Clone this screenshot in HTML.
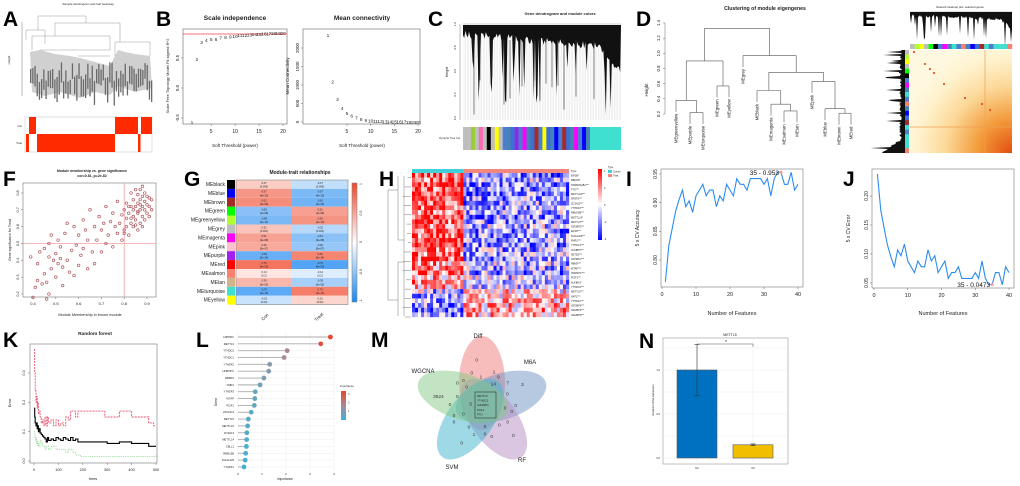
<!DOCTYPE html>
<html><head><meta charset="utf-8">
<style>
html,body{margin:0;padding:0;background:#fff;}
svg{display:block;font-family:"Liberation Sans",Arial,sans-serif;}
.L{font-weight:bold;font-size:21px;fill:#000;}
</style></head>
<body>
<svg id="fig" width="1020" height="486" viewBox="0 0 1020 486" xmlns="http://www.w3.org/2000/svg">
<defs>
<linearGradient id="gLeg" x1="0" y1="0" x2="0" y2="1"><stop offset="0" stop-color="#f0472a"/><stop offset="0.5" stop-color="#ffffff"/><stop offset="1" stop-color="#1a86f0"/></linearGradient>
<linearGradient id="hLeg" x1="0" y1="0" x2="0" y2="1"><stop offset="0" stop-color="#ff0000"/><stop offset="0.5" stop-color="#ffffff"/><stop offset="1" stop-color="#0000ff"/></linearGradient>
<linearGradient id="lLeg" x1="0" y1="0" x2="0" y2="1"><stop offset="0" stop-color="#e8452c"/><stop offset="0.5" stop-color="#a98a92"/><stop offset="1" stop-color="#3cb4d8"/></linearGradient>
<radialGradient id="eGrad" cx="1" cy="1" r="1.1"><stop offset="0" stop-color="#e24d10"/><stop offset="0.3" stop-color="#f39a3a"/><stop offset="0.6" stop-color="#fcd99a"/><stop offset="0.85" stop-color="#fff3cf"/><stop offset="1" stop-color="#fff8e0"/></radialGradient>
</defs>
<g>
<text class="L" x="3" y="26">A</text>
<text class="L" x="156" y="26">B</text>
<text class="L" x="428" y="26">C</text>
<text class="L" x="636" y="26">D</text>
<text class="L" x="862" y="26">E</text>
<text class="L" x="3" y="186">F</text>
<text class="L" x="184" y="186">G</text>
<text class="L" x="379" y="186">H</text>
<text class="L" x="626" y="186">I</text>
<text class="L" x="843" y="186">J</text>
<text class="L" x="3" y="347">K</text>
<text class="L" x="196" y="347">L</text>
<text class="L" x="371" y="347">M</text>
<text class="L" x="639" y="348">N</text>
</g>
</svg>
<script>
// ---------- DATA ----------
const bPowers=[1,2,3,4,5,6,7,8,9,10,11,12,13,14,15,16,17,18,19,20];
const bR2=[-0.57,0.48,0.77,0.80,0.82,0.82,0.84,0.85,0.86,0.87,0.88,0.88,0.89,0.90,0.90,0.91,0.91,0.92,0.92,0.92];
const bConn=[2350,1100,620,380,250,170,120,80,60,40,30,25,20,15,12,10,8,6,5,4];
const dLeaves=["MEgreenyellow","MEpurple","MEturquoise","MEgreen","MEyellow","MEgrey","MEblack","MEmagenta","MEsalmon","MEtan","MEpink","MEblue","MEbrown","MEred"];
const dMergeA=[1,0,3,8,7,6,12,11,10,"n1","n6","n9","n2","n12"];
const dMergeB=[2,"n0",4,9,"n3","n4",13,"n6b",  "n7", "n5","n8","n10","n11","n11b"];
const fMM=[0.39,0.40,0.41,0.42,0.42,0.43,0.44,0.45,0.45,0.46,0.46,0.47,0.47,0.47,0.48,0.48,0.49,0.50,0.50,0.51,0.51,0.52,0.52,0.53,0.53,0.54,0.55,0.55,0.56,0.57,0.58,0.58,0.59,0.60,0.60,0.61,0.62,0.62,0.63,0.64,0.64,0.65,0.66,0.67,0.67,0.68,0.69,0.70,0.70,0.71,0.72,0.72,0.73,0.74,0.75,0.75,0.76,0.77,0.77,0.78,0.79,0.79,0.80,0.80,0.81,0.81,0.82,0.82,0.83,0.83,0.83,0.84,0.84,0.84,0.85,0.85,0.85,0.86,0.86,0.86,0.86,0.87,0.87,0.87,0.87,0.88,0.88,0.88,0.88,0.89,0.89,0.89,0.89,0.90,0.90,0.90,0.91,0.91,0.91,0.92,0.92,0.84,0.85,0.86,0.87,0.88,0.82,0.83,0.80,0.81];
const fGS=[0.42,0.18,0.24,0.28,0.38,0.45,0.26,0.47,0.32,0.17,0.27,0.20,0.42,0.50,0.35,0.55,0.40,0.44,0.30,0.52,0.38,0.48,0.41,0.25,0.36,0.56,0.40,0.62,0.33,0.46,0.31,0.60,0.49,0.37,0.55,0.43,0.64,0.47,0.58,0.35,0.52,0.70,0.45,0.60,0.38,0.52,0.66,0.45,0.58,0.62,0.50,0.72,0.55,0.63,0.48,0.68,0.60,0.56,0.75,0.62,0.52,0.67,0.58,0.70,0.65,0.74,0.55,0.68,0.62,0.72,0.80,0.60,0.70,0.76,0.64,0.72,0.82,0.58,0.68,0.74,0.79,0.62,0.70,0.76,0.82,0.66,0.72,0.78,0.84,0.64,0.70,0.75,0.80,0.68,0.73,0.78,0.66,0.72,0.77,0.70,0.76,0.66,0.61,0.69,0.73,0.60,0.72,0.65,0.56,0.60];
const gModules=["MEblack","MEblue","MEbrown","MEgreen","MEgreenyellow","MEgrey","MEmagenta","MEpink","MEpurple","MEred","MEsalmon","MEtan","MEturquoise","MEyellow"];
const gSwatch=["#000000","#0000ff","#a52a2a","#00ff00","#adff2f","#bebebe","#ff00ff","#ffc0cb","#a020f0","#ff0000","#fa8072","#d2b48c","#40e0d0","#ffff00"];
const gCorCon=[0.27,0.57,0.62,-0.52,-0.58,0.32,0.51,0.46,-0.66,0.75,0.14,0.39,-0.7,-0.23];
const gPval=["(0.006)","(4e-10)","(3e-26)","(1e-08)","(2e-10)","(0.001)","(3e-08)","(5e-07)","(5e-14)","(6e-20)","(0.2)","(5e-05)","(3e-16)","(0.02)"];
const hGenes=["EIF3B*","RBM15*","HNRNPA2B1***","FTO***","METTL16***","SRSF3***","ZC3H13***","YTHDF3***","RBM15B***","METTL14*","METTL3***","IGF2BP2***","EIF3H***","KIAA1429***","FMR1***","YTHDC1***","ALKBH5***","SETD2***","LRPPRC***","RBMX***","WTAP***","HNRNPC***","PCIF1***","ALKBH3*","YTHDC2***","METTL5***","NXF1***","YTHDF2***","IGF2BP3***","IGF2BP1***","IGF2BP3***"];
const hFC=[1.2,0.9,1.4,1.1,1.3,1.0,1.2,1.1,0.9,1.3,1.0,0.8,1.2,1.0,1.1,1.3,0.9,1.0,1.2,0.7,0.8,1.1,0.6,0.8,0.5,-0.4,-0.6,-0.7,-0.8,-0.9,-0.7];
const iAcc=[0.762,0.825,0.855,0.885,0.905,0.922,0.893,0.903,0.883,0.912,0.922,0.932,0.912,0.922,0.922,0.893,0.912,0.903,0.932,0.922,0.912,0.942,0.932,0.932,0.922,0.942,0.942,0.942,0.942,0.932,0.942,0.912,0.942,0.953,0.953,0.932,0.932,0.953,0.922,0.932];
const jErr=[0.238,0.175,0.145,0.115,0.095,0.078,0.107,0.097,0.117,0.088,0.078,0.068,0.088,0.078,0.078,0.107,0.088,0.097,0.068,0.078,0.088,0.058,0.068,0.068,0.078,0.058,0.058,0.058,0.058,0.068,0.058,0.088,0.058,0.047,0.0473,0.068,0.068,0.047,0.078,0.068];
const kTrees=[1,3,5,8,10,13,15,18,20,25,30,35,40,45,50,55,60,70,80,90,100,110,120,130,140,150,160,170,180,190,200,250,290,300,340,350,390,400,460,470,490,500];
const kOOB=[0.18,0.15,0.13,0.12,0.13,0.11,0.12,0.10,0.11,0.095,0.09,0.085,0.08,0.075,0.065,0.08,0.07,0.075,0.07,0.08,0.075,0.07,0.08,0.075,0.07,0.08,0.07,0.075,0.065,0.065,0.065,0.065,0.065,0.06,0.06,0.065,0.065,0.06,0.06,0.05,0.05,0.05];
const kErrRed=[0.38,0.30,0.24,0.20,0.22,0.18,0.20,0.16,0.17,0.15,0.13,0.14,0.12,0.15,0.12,0.15,0.13,0.14,0.12,0.14,0.12,0.13,0.12,0.15,0.14,0.17,0.17,0.15,0.17,0.17,0.17,0.17,0.15,0.15,0.15,0.17,0.17,0.15,0.15,0.13,0.12,0.12];
const kErrGreen=[0.10,0.09,0.07,0.08,0.06,0.07,0.05,0.06,0.05,0.07,0.06,0.05,0.05,0.04,0.05,0.05,0.04,0.05,0.05,0.04,0.04,0.04,0.04,0.03,0.04,0.04,0.03,0.02,0.02,0.015,0.015,0.015,0.015,0.015,0.015,0.015,0.015,0.015,0.015,0.015,0.015,0.02];
const lGenes=["LRPPRC","METTL3","YTHDC2","YTHDC1","YTHDF2","HNRNPC","RBM15","FMR1","YTHDF3","WTAP","PCIF1","ZCCHC4","METTL5","METTL16","ZC3H13","METTL14","CBLL1","RBM15B","KIAA1429","YTHDF1"];
const lImp=[3.85,3.45,2.05,1.92,1.32,1.28,1.08,0.92,0.72,0.70,0.68,0.55,0.43,0.40,0.37,0.36,0.35,0.32,0.30,0.25];
const nGroups=["NC","AS"];
const nVals=[1.0,0.15];
const nErr=[0.29,0.01];
const mSets=["Diff","M6A","RF","SVM","WGCNA"];

// ---------- HELPERS ----------
const NS="http://www.w3.org/2000/svg";
const svg=document.getElementById('fig');
function mk(parent,tag,attrs,name){
  const el=document.createElementNS(NS,tag);
  for(const k in attrs) el.setAttribute(k,attrs[k]);
  
  
  parent.appendChild(el);return el;
}
function tx(parent,x,y,s,size,name,opt){
  opt=opt||{};
  const a={x:x,y:y,'font-size':size,fill:opt.fill||'#222'};
  if(opt.anchor)a['text-anchor']=opt.anchor;
  if(opt.rot!==undefined)a.transform='rotate('+opt.rot+' '+x+' '+y+')';
  if(opt.bold)a['font-weight']='bold';
  const t=mk(parent,'text',a,name);t.textContent=s;return t;
}
function lin(d0,d1,r0,r1){return v=>r0+(v-d0)*(r1-r0)/(d1-d0);}
function grp(name){return mk(svg,'g',{},name);}
function line(p,x1,y1,x2,y2,st,w,name,dash){const a={x1:x1,y1:y1,x2:x2,y2:y2,stroke:st,'stroke-width':w};if(dash)a['stroke-dasharray']=dash;return mk(p,'line',a,name);}
function rect(p,x,y,w,h,fill,name,st){const a={x:x,y:y,width:w,height:h,fill:fill};if(st){a.stroke=st;a['stroke-width']=0.6;}return mk(p,'rect',a,name);}
function poly(p,pts,st,w,name,dash){const a={points:pts.map(q=>q[0].toFixed(1)+','+q[1].toFixed(1)).join(' '),fill:'none',stroke:st,'stroke-width':w};if(dash)a['stroke-dasharray']=dash;return mk(p,'polyline',a,name);}
function h01(i,j){const s=Math.sin(i*12.9898+j*78.233)*43758.5453;return s-Math.floor(s);}

// ---------- A ----------
(function(){
 const g=grp('panel-a-sample-dendrogram');
 tx(g,88,5,'Sample dendrogram and trait heatmap',3,'a-title',{anchor:'middle'});
 line(g,22,22,22,96,'#555',0.4,'a-y-axis');
 tx(g,10,60,'Height',3,'a-y-title',{rot:-90,anchor:'middle'});
 const segs=[[38,16,86,16],[38,16,38,30],[86,16,86,23],[55,23,120,23],[55,23,55,36],[120,23,120,42],[32,36,110,36],[32,36,32,50],[110,36,110,50],[26,30,45,30],[26,30,26,40],[45,30,45,44],[115,42,150,42],[115,42,115,56],[150,42,150,56],[70,50,110,50],[40,50,70,50],[78,56,110,56]];
 segs.forEach((s,i)=>line(g,s[0],s[1],s[2],s[3],'#999',0.5,'a-branch'));
 mk(g,'polygon',{points:'30,52 40,50 55,54 70,56 80,58 95,62 110,66 118,50 125,52 135,54 150,56 152,88 135,92 118,86 110,95 95,92 80,98 60,92 45,96 32,92',fill:'#d0d0d0'},'a-leaf-mass');
 for(let x=30;x<152;x+=2.2){const y0=62+20*h01(x,1);mk(g,'rect',{x:x,y:y0,width:1.3,height:14+12*h01(x,2),fill:'#6a6a6a'},'a-leaf-label');}
 rect(g,25,117,127,35,'#fff','a-heatmap-bg','#ccc');
 tx(g,22,127,'Con',2.5,'a-row-con',{anchor:'end'});
 tx(g,22,144,'Treat',2.5,'a-row-treat',{anchor:'end'});
 [[29,117,7,17],[115,117,23,17],[141,117,11,17],[26,134,3,18],[37,134,78,18],[138,134,2.5,18]].forEach(r=>rect(g,r[0],r[1],r[2],r[3],'#ff2a00','a-trait-cell'));
})();

// ---------- B ----------
(function(){
 const g=grp('panel-b-soft-threshold');
 const x1=lin(1,20,192,283), y1=lin(0,0.5,88,58);
 rect(g,183,29,104,95,'none','b1-frame','#666');
 tx(g,235,20,'Scale independence',6.5,'b1-title',{anchor:'middle',bold:true});
 line(g,183,y1(0.9),287,y1(0.9),'#f04040',0.8,'b1-cutoff-line');
 [5,10,15,20].forEach(v=>{line(g,x1(v),124,x1(v),126,'#444',0.4,'b1-x-tick');tx(g,x1(v),133,String(v),5,'b1-x-tick-label',{anchor:'middle'});});
 [-0.5,0,0.5].forEach(v=>{line(g,181,y1(v),183,y1(v),'#444',0.4,'b1-y-tick');tx(g,179,y1(v),v.toFixed(1),4.5,'b1-y-tick-label',{anchor:'middle',rot:-90});});
 tx(g,235,147,'Soft Threshold (power)',4.5,'b1-x-title',{anchor:'middle'});
 tx(g,169,76,'Scale Free Topology Model Fit,signed R^2',4,'b1-y-title',{anchor:'middle',rot:-90});
 bPowers.forEach((p,i)=>tx(g,x1(p),y1(bR2[i])+2,String(p),4.8,'b1-point-label',{anchor:'middle'}));
 const x2=lin(1,20,328,418), y2=lin(0,2000,122,48);
 rect(g,303,29,117,95,'none','b2-frame','#666');
 tx(g,362,20,'Mean connectivity',6.5,'b2-title',{anchor:'middle',bold:true});
 [5,10,15,20].forEach(v=>{line(g,x2(v),124,x2(v),126,'#444',0.4,'b2-x-tick');tx(g,x2(v),133,String(v),5,'b2-x-tick-label',{anchor:'middle'});});
 [0,500,1000,1500,2000].forEach(v=>{line(g,301,y2(v),303,y2(v),'#444',0.4,'b2-y-tick');tx(g,299,y2(v),String(v),4.5,'b2-y-tick-label',{anchor:'middle',rot:-90});});
 tx(g,362,147,'Soft Threshold (power)',4.5,'b2-x-title',{anchor:'middle'});
 tx(g,289,76,'Mean Connectivity',4.5,'b2-y-title',{anchor:'middle',rot:-90});
 bPowers.forEach((p,i)=>tx(g,x2(p),y2(bConn[i])+2,String(p),4.8,'b2-point-label',{anchor:'middle'}));
})();

// ---------- C ----------
(function(){
 const g=grp('panel-c-gene-dendrogram');
 tx(g,560,15,'Gene dendrogram and module colors',4,'c-title',{anchor:'middle',bold:true});
 line(g,460,24,460,120,'#555',0.4,'c-y-axis');
 [1.0,0.8,0.6,0.4,0.2].forEach((v,i)=>tx(g,456,24+i*23.5,v.toFixed(1),3,'c-y-tick-label',{anchor:'middle',rot:-90}));
 tx(g,448,72,'Height',3.5,'c-y-title',{anchor:'middle',rot:-90});
 line(g,463,24,621,24,'#888',0.4,'c-top-line');
 for(let x=464;x<621;x+=1.6){line(g,x,26,x,120,'#e2e2e2',0.5,'c-leaf');}
 const pts=[[463,25]];
 for(let x=463;x<=621;x+=1.2){const base=30+((x-463)/158)*14+(x>600?(x-600)*1.2:0);const sp=h01(x,3)>0.8?25+45*h01(x,4):8*h01(x,5);pts.push([x,base+sp]);}
 pts.push([621,25]);
 mk(g,'polygon',{points:pts.map(p=>p[0].toFixed(1)+','+p[1].toFixed(1)).join(' '),fill:'#111'},'c-dendrogram-mass');
 for(let x=468;x<600;x+=6){if(h01(x,7)>0.55)line(g,x,40,x,70+45*h01(x,8),'#333',0.6,'c-branch');}
 const cols=["#bebebe","#bebebe","#9acd32","#bebebe","#ff69b4","#bebebe","#000","#bebebe","#ffff00","#bebebe","#4a7fd0","#4682b4","#3a6fd8","#8a2be2","#4a7fd0","#ff00ff","#4682b4","#3a6fd8","#a52a2a","#4a7fd0","#ffff00","#3a6fd8","#4682b4","#0000ff","#4a7fd0","#a52a2a","#3a6fd8","#4682b4","#ff00ff","#4a7fd0","#0000ff","#4682b4"];
 const w=127/cols.length;
 cols.forEach((c,i)=>rect(g,463+i*w,127,w+0.3,23,c,'c-module-stripe'));
 rect(g,590,127,31,23,'#40e0d0','c-module-turquoise');
 tx(g,460,139,'Dynamic Tree Cut',2.6,'c-colorbar-label',{anchor:'end'});
})();

// ---------- D ----------
(function(){
 const g=grp('panel-d-eigengene-clustering');
 tx(g,765,10,'Clustering of module eigengenes',5.2,'d-title',{anchor:'middle',bold:true});
 const y=lin(0.2,1.4,114,23);
 line(g,665,y(0.2),665,y(1.4),'#444',0.4,'d-y-axis');
 [0.2,0.4,0.6,0.8,1.0,1.2,1.4].forEach(v=>{line(g,663,y(v),665,y(v),'#444',0.4,'d-y-tick');tx(g,660,y(v),v.toFixed(1),4.3,'d-y-tick-label',{anchor:'middle',rot:-90});});
 tx(g,648,90,'Height',4.5,'d-y-title',{anchor:'middle',rot:-90});
 const lx=[676,690,703,717,729,743,757,771,784,797,812,825,839,851];
 const merges=[[1,2,0.22],[0,'m0',0.38],[3,4,0.57],['m1','m2',0.90],[8,9,0.24],[7,'m4',0.33],[6,'m5',0.51],[12,13,0.21],[11,'m7',0.27],[10,'m8',0.63],['m6','m9',0.75],[5,'m10',0.97],['m3','m11',1.33]];
 const nodes={};
 const hang=0.15;
 function pos(k){return typeof k==='number'?{x:lx[k],h:null,leaf:k}:nodes[k];}
 merges.forEach((m,i)=>{
  const a=pos(m[0]),b=pos(m[1]),h=m[2];
  [a,b].forEach(n=>{const bot=n.leaf!==undefined&&n.h===null?h-hang:n.h;line(g,n.x,y(h),n.x,y(bot),'#555',0.6,'d-branch');
   if(n.leaf!==undefined&&n.h===null){tx(g,n.x+1.5,y(bot)+2,dLeaves[n.leaf],4.3,'d-leaf-label',{anchor:'end',rot:-90});}});
  line(g,a.x,y(h),b.x,y(h),'#555',0.6,'d-merge');
  nodes['m'+i]={x:(a.x+b.x)/2,h:h};
 });
})();

// ---------- E ----------
(function(){
 const g=grp('panel-e-network-heatmap');
 tx(g,960,8,'Network heatmap plot, selected genes',2.8,'e-title',{anchor:'middle'});
 line(g,910,12,1012,12,'#666',0.4,'e-top-line');
 const pts=[[910,12]];
 for(let x=910;x<=1012;x+=1){const sp=h01(x,11)>0.85?8+20*h01(x,12):3*h01(x,13);pts.push([x,14+sp+((x-910)/102)*4+(x>1000?(x-1000)*0.8:0)]);}
 pts.push([1012,12]);
 mk(g,'polygon',{points:pts.map(p=>p[0]+','+p[1].toFixed(1)).join(' '),fill:'#111'},'e-top-dendrogram');
 const lp=[[905,50]];
 for(let y=50;y<=153;y+=1){const sp=h01(y,21)>0.85?8+15*h01(y,22):3*h01(y,23);lp.push([905-(3+sp+(y>140?(y-140)*1.5:0)),y]);}
 lp.push([905,153]);
 mk(g,'polygon',{points:lp.map(p=>p[0].toFixed(1)+','+p[1]).join(' '),fill:'#111'},'e-left-dendrogram');
 const cc=["#bebebe","#adff2f","#ffff00","#bebebe","#00ff00","#000","#4a7fd0","#ff00ff","#4682b4","#40e0d0","#4a7fd0","#fa8072","#4682b4","#0000ff","#3a6fd8","#a52a2a","#40e0d0","#4a7fd0","#40e0d0","#40e0d0","#40e0d0","#fa8072"];
 const cw=102/cc.length,ch=103/cc.length;
 cc.forEach((c,i)=>{rect(g,910+i*cw,44,cw+0.2,5,c,'e-top-colorbar');rect(g,905,50+i*ch,4,ch+0.2,c,'e-left-colorbar');});
 rect(g,910,50,102,103,'url(#eGrad)','e-heatmap');
 line(g,910,127,1012,127,'#f2a050',0.7,'e-heatmap-band');
 line(g,985,50,985,153,'#f2a050',0.7,'e-heatmap-band');
 [[914,52],[925,64],[930,69],[934,73],[944,84],[965,98],[982,104],[990,110]].forEach(p=>mk(g,'circle',{cx:p[0],cy:p[1],r:1.1,fill:'#e8502a'},'e-diagonal-dot'));
})();

// ---------- F ----------
(function(){
 const g=grp('panel-f-scatter');
 tx(g,92,172,'Module membership vs. gene significance',3.5,'f-title',{anchor:'middle',bold:true});
 tx(g,92,177,'cor=0.81, p=2e-82',3.5,'f-subtitle',{anchor:'middle',bold:true});
 const x=lin(0.4,0.9,33,147), y=lin(0.2,0.8,294,193);
 rect(g,23,183,133,114,'none','f-frame','#777');
 line(g,x(0.8),183,x(0.8),297,'#f4a0a0',0.8,'f-threshold-x');
 line(g,23,y(0.5),156,y(0.5),'#f4a0a0',0.8,'f-threshold-y');
 [0.4,0.5,0.6,0.7,0.8,0.9].forEach(v=>{line(g,x(v),297,x(v),299,'#444',0.4,'f-x-tick');tx(g,x(v),305,v.toFixed(1),4,'f-x-tick-label',{anchor:'middle'});});
 [0.2,0.3,0.4,0.5,0.6,0.7,0.8].forEach(v=>{line(g,21,y(v),23,y(v),'#444',0.4,'f-y-tick');tx(g,19,y(v),v.toFixed(1),3.8,'f-y-tick-label',{anchor:'middle',rot:-90});});
 tx(g,90,316,'Module Membership in brown module',3.8,'f-x-title',{anchor:'middle'});
 tx(g,11,240,'Gene significance for Treat',3.5,'f-y-title',{anchor:'middle',rot:-90});
 const n=Math.min(fMM.length,fGS.length);
 for(let i=0;i<n;i++){mk(g,'circle',{cx:x(fMM[i]),cy:y(fGS[i]),r:1.3,fill:'none',stroke:'#b05a60','stroke-width':0.7},'f-point');}
})();

// ---------- G ----------
(function(){
 const g=grp('panel-g-module-trait');
 tx(g,300,174,'Module-trait relationships',5,'g-title',{anchor:'middle',bold:true});
 const top=180,rh=8.9;
 function col(v){const a=Math.min(1,Math.abs(v));const c=v>0?[240,71,42]:[26,134,240];return 'rgb('+c.map(k=>Math.round(255+(k-255)*a)).join(',')+')';}
 gModules.forEach((m,i)=>{
  const yy=top+i*rh;
  rect(g,227,yy,8,rh,gSwatch[i],'g-module-swatch');
  tx(g,225,yy+6,m,5,'g-module-label',{anchor:'end'});
  [gCorCon[i],-gCorCon[i]].forEach((v,j)=>{
   const xx=236+j*56;
   rect(g,xx,yy,56,rh,col(v),'g-cell');
   tx(g,xx+28,yy+3.8,v.toFixed(2),2.6,'g-cell-corr',{anchor:'middle'});
   tx(g,xx+28,yy+7.4,gPval[i],2.6,'g-cell-pval',{anchor:'middle'});
  });
 });
 rect(g,236,top,112,rh*14,'none','g-frame','#888');
 rect(g,352,183,5,119,'url(#gLeg)','g-legend-bar','#888');
 [[1,184],[0.5,213],[0,242],[-0.5,272],[-1,301]].forEach(t=>tx(g,362,t[1],String(t[0]),3.5,'g-legend-tick',{anchor:'middle',rot:-90}));
 tx(g,266,318,'Con',4.5,'g-x-label-con',{anchor:'middle',rot:-45});
 tx(g,320,318,'Treat',4.5,'g-x-label-treat',{anchor:'middle',rot:-45});
})();

// ---------- H ----------
(function(){
 const g=grp('panel-h-expression-heatmap');
 const nC=17,nT=35,cw=157/(nC+nT),top=173,rh=144/hGenes.length;
 rect(g,412,169,nC*cw,4,'#3fd0d8','h-type-control');
 rect(g,412+nC*cw,169,nT*cw,4,'#f08880','h-type-treat');
 tx(g,571,172,'Type',2.5,'h-type-label',{});
 function col(v){v=Math.max(-2,Math.min(2,v))/2;const c=v>0?[255,0,0]:[0,0,255];const a=Math.abs(v);return 'rgb('+c.map(k=>Math.round(255+(k-255)*a)).join(',')+')';}
 hGenes.forEach((gn,r)=>{
  for(let c=0;c<nC+nT;c++){
   const grpSign=c<nC?1:-0.6;
   const v=hFC[r]*grpSign*1.2+(h01(r+1,c+1)-0.5)*2.6;
   rect(g,412+c*cw,top+r*rh,cw+0.15,rh+0.15,col(v),'h-cell');
  }
  tx(g,571,top+r*rh+rh*0.75,gn,2.5,'h-gene-label',{});
 });
 for(let r=0;r<hGenes.length;r+=2){const yy=top+r*rh+rh;line(g,402+6*h01(r,9),yy,411,yy,'#555',0.4,'h-row-dendro');}
 line(g,388,190,388,300,'#555',0.4,'h-row-dendro-trunk');
 line(g,388,190,398,190,'#555',0.4,'h-row-dendro');line(g,388,300,398,300,'#555',0.4,'h-row-dendro');
 line(g,398,176,398,240,'#555',0.4,'h-row-dendro');line(g,398,262,398,316,'#555',0.4,'h-row-dendro');
 line(g,398,240,404,240,'#555',0.4,'h-row-dendro');line(g,398,262,404,262,'#555',0.4,'h-row-dendro');
 line(g,404,176,404,316,'#555',0.4,'h-row-dendro');
 rect(g,598,169,4,71,'url(#hLeg)','h-legend-bar');
 ['4','2','0','-2','-4'].forEach((t,i)=>tx(g,604,172+i*17,t,2.5,'h-legend-tick',{}));
 tx(g,608,168,'Type',2.5,'h-legend-title',{});
 rect(g,608,170,4,3,'#3fd0d8','h-legend-control');tx(g,613,172.5,'Control',2.3,'h-legend-control-label',{});
 rect(g,608,174,4,3,'#f08880','h-legend-treat');tx(g,613,176.5,'Treat',2.3,'h-legend-treat-label',{});
})();

// ---------- I & J ----------
function featurePanel(name,vals,box,yd,yr,yticks,ylab,ann,annIdx){
 const g=grp(name);
 const x=lin(0,40,box.x0,box.x40), y=lin(yd[0],yd[1],yr[0],yr[1]);
 rect(g,box.l,box.t,box.r-box.l,box.b-box.t,'none',name+'-frame','#777');
 [0,10,20,30,40].forEach(v=>{line(g,x(v),box.b,x(v),box.b+2,'#444',0.4,'x-tick');tx(g,x(v),box.b+9,String(v),5.5,'x-tick-label',{anchor:'middle'});});
 yticks.forEach(v=>{line(g,box.l-2,y(v),box.l,y(v),'#444',0.4,'y-tick');tx(g,box.l-4,y(v),v.toFixed(2),5,'y-tick-label',{anchor:'middle',rot:-90});});
 tx(g,(box.l+box.r)/2,315,'Number of Features',5.5,'x-axis-title',{anchor:'middle'});
 tx(g,box.l-22,(box.t+box.b)/2,ylab,5,'y-axis-title',{anchor:'middle',rot:-90});
 poly(g,vals.map((v,i)=>[x(i+1),y(v)]),'#2b8cf0',1.1,'cv-line');
 mk(g,'circle',{cx:x(annIdx+1),cy:y(vals[annIdx]),r:1.6,fill:'#f4a0a0'},'best-point');
 tx(g,x(annIdx+1)-2,y(vals[annIdx])+2.5,ann,6.5,'best-annotation',{anchor:'end',fill:'#111'});
}
featurePanel('panel-i-cv-accuracy',iAcc,{l:661,t:169,r:803,b:287,x0:662,x40:798},[0.80,0.95],[260,174],[0.80,0.85,0.90,0.95],'5 x CV Accuracy','35 - '+iAcc[34].toFixed(3),34);
featurePanel('panel-j-cv-error',jErr,{l:872,t:169,r:1014,b:288,x0:874,x40:1009},[0.05,0.20],[283,196],[0.05,0.10,0.15,0.20],'5 x CV Error','35 - '+jErr[34].toFixed(4),34);

// ---------- K ----------
(function(){
 const g=grp('panel-k-random-forest');
 tx(g,95,335,'Random forest',4.8,'k-title',{anchor:'middle',bold:true});
 const x=lin(0,500,34,156), y=lin(0,0.3,461,373);
 rect(g,30,344,127,119,'none','k-frame','#777');
 [0,100,200,300,400,500].forEach(v=>{line(g,x(v),463,x(v),465,'#444',0.4,'k-x-tick');tx(g,x(v),471,String(v),3.8,'k-x-tick-label',{anchor:'middle'});});
 [0,0.1,0.2,0.3].forEach(v=>{line(g,28,y(v),30,y(v),'#444',0.4,'k-y-tick');tx(g,25,y(v),v.toFixed(1),3.8,'k-y-tick-label',{anchor:'middle',rot:-90});});
 tx(g,93,480,'trees',3.8,'k-x-title',{anchor:'middle'});
 tx(g,11,403,'Error',3.8,'k-y-title',{anchor:'middle',rot:-90});
 function step(arr){const p=[];kTrees.forEach((t,i)=>{if(i>0)p.push([x(t),y(arr[i-1])]);p.push([x(t),y(arr[i])]);});return p;}
 poly(g,step(kErrGreen),'#8fd88f',0.8,'k-class-error-green','1.2,1');
 poly(g,step(kErrRed),'#e8506a',0.9,'k-class-error-red','2,1');
 poly(g,step(kOOB),'#000',1.1,'k-oob-error');
})();

// ---------- L ----------
(function(){
 const g=grp('panel-l-importance');
 const x=lin(0,4,238,334), y=i=>337+i*6.84;
 rect(g,236,332,98,138,'#fff','l-plot-bg');
 [0,1,2,3,4].forEach(v=>{line(g,x(v),332,x(v),470,'#ececec',0.5,'l-grid-x');tx(g,x(v),475,String(v),3,'l-x-tick-label',{anchor:'middle'});});
 tx(g,285,480,'importance',3.2,'l-x-title',{anchor:'middle'});
 tx(g,217,402,'Gene',3.5,'l-y-title',{anchor:'middle',rot:-90});
 function col(v){const t=Math.min(1,v/3.85);const a=[60,180,216],m=[170,140,145],b=[232,69,44];const c=t<0.5?a.map((k,i)=>k+(m[i]-k)*t*2):m.map((k,i)=>k+(b[i]-k)*(t-0.5)*2);return 'rgb('+c.map(Math.round).join(',')+')';}
 lGenes.forEach((gn,i)=>{
  line(g,236,y(i),334,y(i),'#ececec',0.5,'l-grid-y');
  tx(g,234,y(i)+1,gn,2.7,'l-gene-label',{anchor:'end'});
  line(g,x(0),y(i),x(lImp[i]),y(i),'#aaa',0.9,'l-stem');
  mk(g,'circle',{cx:x(lImp[i]),cy:y(i),r:2.4,fill:col(lImp[i])},'l-dot');
 });
 tx(g,340,387,'importance',2.8,'l-legend-title',{});
 rect(g,341,391,5,29,'url(#lLeg)','l-legend-bar');
 ['3','2','1'].forEach((t,i)=>tx(g,348,395+i*8.5,t,2.6,'l-legend-tick',{}));
})();

// ---------- M ----------
(function(){
 const g=grp('panel-m-venn');
 const cx=482,cy=403;
 const cols=['#f07a7a','#6f93c4','#b88dc4','#3fb4cc','#86c986'];
 mSets.forEach((s,k)=>{
  mk(g,'ellipse',{cx:cx,cy:cy-20,rx:23,ry:47,fill:cols[k],'fill-opacity':0.5,transform:'rotate('+(k*72)+' '+cx+' '+cy+')'},'venn-'+s.toLowerCase());
 });
 const labs=[[478,338,'Diff'],[530,364,'M6A'],[522,462,'RF'],[452,469,'SVM'],[423,373,'WGCNA']];
 labs.forEach(l=>tx(g,l[0],l[1],l[2],6,'venn-set-label',{anchor:'middle'}));
 const nums=[[320,88,'0'],[305,128,'0'],[333,140,'1'],[372,125,'1'],[385,140,'9'],[370,160,'14'],[413,158,'7'],[457,162,'3'],[262,158,'0'],[280,150,'0'],[290,170,'0'],[205,198,'3524'],[262,198,'0'],[302,220,'5'],[412,190,'0'],[240,222,'0'],[405,233,'0'],[425,243,'0'],[437,225,'0'],[280,250,'0'],[252,255,'0'],[252,275,'0'],[297,290,'0'],[345,288,'0'],[388,283,'0'],[413,275,'0'],[312,312,'1'],[345,310,'0'],[365,318,'0'],[430,315,'0'],[275,338,'0']];
 nums.forEach(n=>tx(g,n[0]/3+370,n[1]/3+332,n[2],4.8,'venn-count',{anchor:'middle',fill:'#333'}));
 rect(g,475,392,21,26,'none','venn-center-box','#333');
 ['METTL5','YTHDC1','IGF2BP3','NXF1','FTO'].forEach((t,i)=>tx(g,477,397+i*4.6,t,2.8,'venn-center-gene',{}));
})();

// ---------- N ----------
(function(){
 const g=grp('panel-n-bar');
 tx(g,730,336,'METTL5',3.5,'n-title',{anchor:'middle'});
 rect(g,663,338,125,126,'#fff','n-frame','#999');
 const y=lin(0,1,458,370);
 [0,0.25,0.5,0.75,1.0,1.25].forEach(v=>line(g,663,y(v),788,y(v),'#e8e8e8',0.4,'n-grid-y'));
 [0,0.5,1.0].forEach(v=>tx(g,660,y(v)+1,v.toFixed(1),2.6,'n-y-tick-label',{anchor:'end'}));
 tx(g,654,400,'Relative mRNA expression',2.6,'n-y-title',{anchor:'middle',rot:-90});
 const bx=[697,753],bc=['#0070c0','#f0c000'];
 nGroups.forEach((gr,i)=>{
  line(g,bx[i],338,bx[i],464,'#e8e8e8',0.4,'n-grid-x');
  rect(g,bx[i]-20,y(nVals[i]),40,y(0)-y(nVals[i]),bc[i],'n-bar-'+gr.toLowerCase(),'#555');
  line(g,bx[i],y(nVals[i]-nErr[i]),bx[i],y(nVals[i]+nErr[i]),'#333',0.6,'n-errorbar');
  line(g,bx[i]-2.5,y(nVals[i]+nErr[i]),bx[i]+2.5,y(nVals[i]+nErr[i]),'#333',0.6,'n-errorcap');
  line(g,bx[i]-2.5,y(nVals[i]-nErr[i]),bx[i]+2.5,y(nVals[i]-nErr[i]),'#333',0.6,'n-errorcap');
  tx(g,bx[i],469,gr,2.6,'n-x-tick-label',{anchor:'middle'});
 });
 poly(g,[[bx[0],345],[bx[0],344],[bx[1],344],[bx[1],347]],'#555',0.5,'n-significance-bracket');
 tx(g,726,344,'*',5,'n-significance-star',{anchor:'middle'});
})();
</script>
</body></html>
